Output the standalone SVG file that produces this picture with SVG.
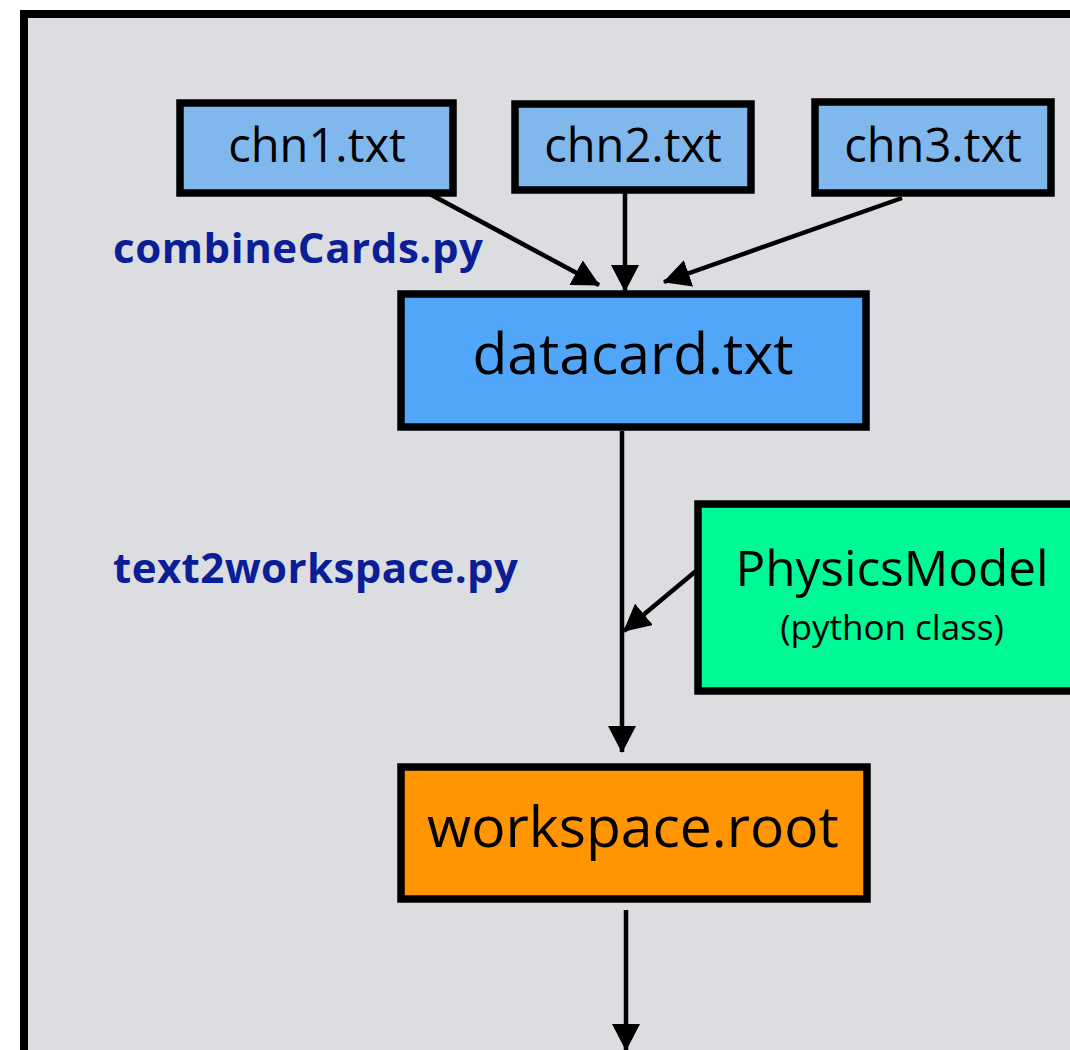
<svg xmlns="http://www.w3.org/2000/svg" width="1070" height="1050" viewBox="0 0 1070 1050">
  <defs>
    <style>
      .frame { fill: #dcdde0; stroke: #000; stroke-width: 8; }
      .box { stroke: #000; stroke-width: 7.5; }
      .chn { fill: #80b8ee; }
      .card { fill: #52a6f9; }
      .model { fill: #00f994; }
      .ws { fill: #ff9500; }
      .lbl { font-family: "Open Sans", "Noto Sans", "Liberation Sans", sans-serif; fill: #000; text-anchor: middle; }
      .tool { font-family: "Open Sans", "Noto Sans", "Liberation Sans", sans-serif; font-weight: bold; fill: #0a1e96; font-size: 42px; }
      .edge { stroke: #000; stroke-width: 4.5; fill: none; }
    </style>
    <marker id="arrow" markerUnits="userSpaceOnUse" viewBox="0 0 27 28" refX="26" refY="14" markerWidth="27" markerHeight="28" orient="auto">
      <path d="M0,0 L27,14 L0,28 Z" fill="#000"/>
    </marker>
  </defs>

  <!-- outer frame, running off the right and bottom edges -->
  <rect class="frame" x="24" y="14" width="1080" height="1060"/>

  <!-- script names -->
  <text class="tool" x="113" y="263" textLength="370">combineCards.py</text>
  <text class="tool" x="113" y="583" textLength="405">text2workspace.py</text>

  <g id="edges">
    <line class="edge" x1="426" y1="192" x2="599" y2="285" marker-end="url(#arrow)"/>
    <line class="edge" x1="625" y1="186" x2="625" y2="291" marker-end="url(#arrow)"/>
    <line class="edge" x1="902" y1="198" x2="664" y2="282" marker-end="url(#arrow)"/>
    <line class="edge" x1="622" y1="431" x2="622" y2="752" marker-end="url(#arrow)"/>
    <line class="edge" x1="696" y1="571" x2="624" y2="631" marker-end="url(#arrow)"/>
    <line class="edge" x1="626" y1="910" x2="626" y2="1050" marker-end="url(#arrow)"/>
  </g>

  <g id="chn1">
    <rect class="box chn" x="180" y="103" width="273" height="90"/>
    <text class="lbl" x="317" y="162" font-size="47">chn1.txt</text>
  </g>
  <g id="chn2">
    <rect class="box chn" x="515" y="104" width="236" height="86"/>
    <text class="lbl" x="633" y="162" font-size="47">chn2.txt</text>
  </g>
  <g id="chn3">
    <rect class="box chn" x="815" y="102" width="236" height="91"/>
    <text class="lbl" x="933" y="162" font-size="47">chn3.txt</text>
  </g>

  <g id="datacard">
    <rect class="box card" x="401" y="294" width="465" height="133"/>
    <text class="lbl" x="633" y="374" font-size="57">datacard.txt</text>
  </g>

  <g id="physicsmodel">
    <rect class="box model" x="698" y="504" width="400" height="187"/>
    <text class="lbl" x="892" y="586" font-size="49.5">PhysicsModel</text>
    <text class="lbl" x="892" y="640" font-size="35">(python class)</text>
  </g>

  <g id="workspace">
    <rect class="box ws" x="401" y="767" width="466" height="132"/>
    <text class="lbl" x="633" y="847" font-size="57">workspace.root</text>
  </g>
</svg>
